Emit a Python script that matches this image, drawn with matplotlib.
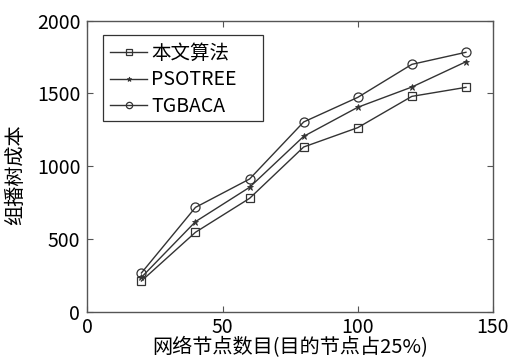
import matplotlib
matplotlib.use("Agg")
import matplotlib.pyplot as plt
from matplotlib.patches import Rectangle

plt.rcParams['font.family'] = ['Noto Sans CJK SC', 'DejaVu Sans']

x_nodes = [20, 40, 60, 80, 100, 120, 140]
ours = [211, 546, 779, 1132, 1265, 1480, 1542]
psotree = [236, 619, 855, 1205, 1405, 1544, 1718]
tgbaca = [266, 717, 912, 1304, 1473, 1700, 1783]
labels = ['本文算法', 'PSOTREE', 'TGBACA']
x_ticks = [0, 50, 100, 150]
y_ticks = [0, 500, 1000, 1500, 2000]

fig = plt.figure(figsize=(5.10, 3.61), dpi=100)
ax = fig.add_axes([87.3/510, 1-311.7/361, (493-87.3)/510, (311.7-20.7)/361])

c = '#333333'
ax.plot(x_nodes, ours, '-s', color=c, lw=1.0, ms=6, mfc='none', mec=c, mew=0.9, label=labels[0])
ax.plot(x_nodes, psotree, '-*', color=c, lw=1.0, ms=5, mfc=c, mec=c, mew=0.6, label=labels[1])
ax.plot(x_nodes, tgbaca, '-o', color=c, lw=1.0, ms=6.5, mfc='none', mec=c, mew=0.9, label=labels[2])

ax.set_xlim(0, 150)
ax.set_ylim(0, 2000)
ax.set_xticks(x_ticks)
ax.set_yticks(y_ticks)
ax.tick_params(direction='in', top=True, right=True, length=4, width=0.8, color='#555555',
               labelsize=14)
ax.tick_params(axis='y', pad=5)
ax.tick_params(axis='x', pad=4)
for s in ax.spines.values():
    s.set_color('#555555')
    s.set_linewidth(1.0)

ax.set_xlabel('网络节点数目(目的节点占25%)', fontsize=14.5, labelpad=-1)
ax.set_ylabel('组播树成本', fontsize=14.5)
ax.yaxis.set_label_coords(-0.15, 0.47)

# legend frame (drawn separately to match the reference box size)
frame = Rectangle((0.0387, 0.655), 0.433 - 0.0387, 0.951 - 0.655, transform=ax.transAxes,
                  fill=True, facecolor='white', edgecolor='#333333', lw=0.9, zorder=4)
ax.add_patch(frame)
leg = ax.legend(loc='upper left', bbox_to_anchor=(0.045, 0.94), fontsize=14, frameon=False,
                handlelength=1.9, handletextpad=0.2,
                borderpad=0.25, labelspacing=0.28, borderaxespad=0, markerscale=0.7)
leg.set_zorder(5)

fig.savefig('out.png', dpi=100)
